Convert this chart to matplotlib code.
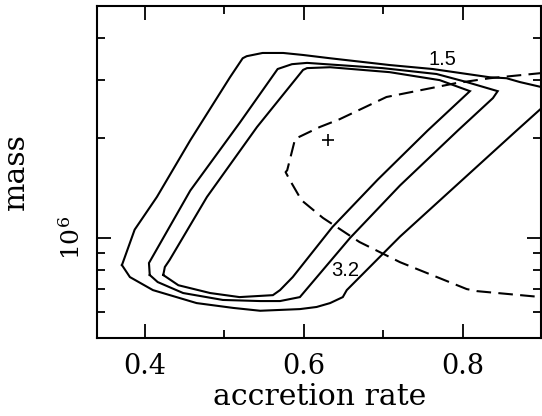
import numpy as np
import matplotlib
matplotlib.use("Agg")
import matplotlib.pyplot as plt
from matplotlib.ticker import FixedLocator, NullFormatter

plt.rcParams['font.family'] = ['DejaVu Serif']
plt.rcParams['mathtext.fontset'] = 'dejavuserif'

# ---- data (accretion rate, mass in units of 1e6) ----
outer_x = [0.371, 0.387, 0.415, 0.457, 0.507, 0.523, 0.528, 0.548, 0.574, 0.599, 0.633,
           0.708, 0.762, 0.834, 0.855, 0.872, 0.899, 0.930, 0.899, 0.868, 0.721, 0.654,
           0.649, 0.633, 0.616, 0.595, 0.545, 0.511, 0.465, 0.410, 0.381]
outer_m = [0.829, 1.06, 1.33, 1.97, 3.05, 3.48, 3.53, 3.61, 3.61, 3.56, 3.48,
           3.32, 3.23, 3.05, 3.03, 2.95, 2.85, 2.75, 2.46, 2.11, 1.01, 0.697,
           0.664, 0.637, 0.620, 0.611, 0.604, 0.616, 0.637, 0.697, 0.763]

middle_x = [0.406, 0.405, 0.457, 0.519, 0.567, 0.585, 0.604, 0.699, 0.767, 0.805, 0.844,
            0.838, 0.794, 0.721, 0.658, 0.595, 0.570, 0.545, 0.498, 0.448, 0.416]
middle_m = [0.774, 0.841, 1.39, 2.22, 3.23, 3.34, 3.37, 3.25, 3.12, 2.95, 2.77,
            2.64, 2.11, 1.44, 1.00, 0.664, 0.646, 0.646, 0.651, 0.683, 0.737]

inner_x = [0.423, 0.425, 0.431, 0.478, 0.541, 0.599, 0.604, 0.633, 0.708, 0.771, 0.809,
           0.756, 0.693, 0.636, 0.586, 0.570, 0.561, 0.519, 0.482, 0.442]
inner_m = [0.774, 0.818, 0.859, 1.33, 2.16, 3.21, 3.25, 3.27, 3.16, 2.99, 2.77,
           2.11, 1.50, 1.08, 0.763, 0.697, 0.673, 0.664, 0.683, 0.721]

dash_x = [0.920, 0.899, 0.834, 0.792, 0.704, 0.645, 0.620, 0.589, 0.579, 0.577, 0.582,
          0.597, 0.624, 0.670, 0.721, 0.805, 0.818, 0.899, 0.920]
dash_m = [3.18, 3.14, 3.03, 2.93, 2.66, 2.28, 2.16, 1.99, 1.60, 1.58, 1.50,
          1.30, 1.15, 0.973, 0.846, 0.702, 0.692, 0.664, 0.660]

best_x = [0.630]
best_m = [1.97]

label_text = ["1.5", "3.2"]
label_x = [0.774, 0.652]
label_m = [3.46, 0.796]

xticks = [0.4, 0.6, 0.8]
xticklabels = ["0.4", "0.6", "0.8"]
xminor = [0.5, 0.7]
yticks = [1e6]
yticklabels = [r"$10^6$"]
yminor = [6e5, 7e5, 8e5, 9e5, 2e6, 3e6, 4e6]

SCALE = 1e6

fig = plt.figure(figsize=(5.42, 4.16), dpi=100)
ax = fig.add_axes([97/542, 78/416, 444.4/542, 332/416])

def closed(xs, ms):
    xs = list(xs) + [xs[0]]
    ms = [m * SCALE for m in ms] + [ms[0] * SCALE]
    return xs, ms

for xs, ms in [(outer_x, outer_m), (middle_x, middle_m), (inner_x, inner_m)]:
    cx, cm = closed(xs, ms)
    ax.plot(cx, cm, color='black', lw=1.5, solid_joinstyle='miter')

ax.plot(dash_x, [m * SCALE for m in dash_m], color='black', lw=1.5,
        dashes=(7, 3.5))
ax.plot(best_x, [m * SCALE for m in best_m], marker='+', color='black',
        ms=9, mew=1.2, ls='none')

for t, x, m in zip(label_text, label_x, label_m):
    ax.text(x, m * SCALE, t, ha='center', va='center', fontsize=14.5,
            family=['Liberation Sans'], color='black')

ax.set_yscale('log')
ax.set_xlim(0.3396, 0.899)
ax.set_ylim(5e5, 5e6)

ax.xaxis.set_major_locator(FixedLocator(xticks))
ax.set_xticklabels(xticklabels)
ax.xaxis.set_minor_locator(FixedLocator(xminor))
ax.yaxis.set_major_locator(FixedLocator(yticks))
ax.set_yticklabels(yticklabels, rotation=90, va='center')
ax.yaxis.set_minor_locator(FixedLocator(yminor))
ax.yaxis.set_minor_formatter(NullFormatter())

ax.tick_params(which='both', direction='in', top=True, right=True, width=1.3)
ax.tick_params(which='major', length=10)
ax.tick_params(which='minor', length=6)
ax.tick_params(axis='x', which='major', pad=11, labelsize=19.5)
ax.tick_params(axis='y', which='major', pad=9, labelsize=18)

for s in ax.spines.values():
    s.set_linewidth(1.5)

ax.set_xlabel("accretion rate", fontsize=21.5, labelpad=2)
ax.set_ylabel("mass", fontsize=21.5, labelpad=21)

fig.savefig("out.png", dpi=100)
